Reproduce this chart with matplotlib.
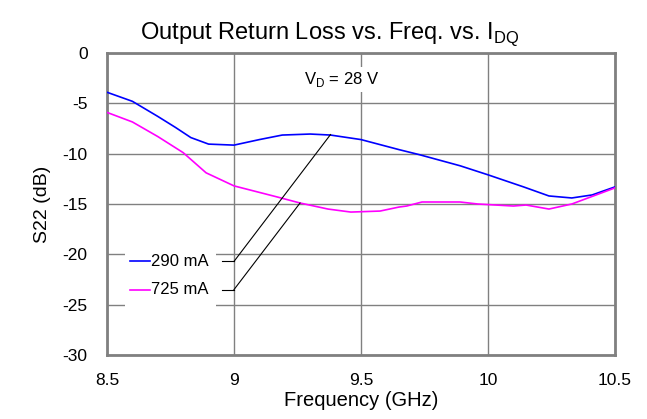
import matplotlib
matplotlib.use("Agg")
import matplotlib.pyplot as plt
from matplotlib.patches import Rectangle

plt.rcParams['font.family'] = ['Liberation Sans', 'DejaVu Sans']

freq_290 = [8.5, 8.6, 8.7, 8.77, 8.83, 8.9, 9.0, 9.1, 9.19, 9.3, 9.38, 9.5, 9.575, 9.65, 9.73, 9.89, 10.0, 10.14, 10.24, 10.33, 10.41, 10.5]
s22_290 = [-3.9, -4.8, -6.3, -7.4, -8.4, -9.05, -9.15, -8.6, -8.15, -8.05, -8.15, -8.6, -9.1, -9.6, -10.1, -11.2, -12.1, -13.3, -14.2, -14.4, -14.1, -13.3]

freq_725 = [8.5, 8.6, 8.7, 8.8, 8.89, 9.0, 9.17, 9.26, 9.37, 9.46, 9.575, 9.65, 9.68, 9.74, 9.89, 9.96, 10.1, 10.15, 10.24, 10.33, 10.5]
s22_725 = [-5.9, -6.85, -8.3, -9.9, -11.9, -13.2, -14.3, -14.9, -15.5, -15.8, -15.7, -15.3, -15.2, -14.8, -14.8, -15.0, -15.2, -15.1, -15.5, -15.0, -13.4]

labels = ['290 mA', '725 mA']
colors = ['#0000FF', '#FF00FF']

fig = plt.figure(figsize=(6.47, 4.19), dpi=100)
ax = fig.add_axes([0.1654, 0.1527, 0.7851, 0.7208])

ax.plot(freq_290, s22_290, color=colors[0], lw=1.2, zorder=3)
ax.plot(freq_725, s22_725, color=colors[1], lw=1.2, zorder=3)

ax.set_xlim(8.5, 10.5)
ax.set_ylim(-30, 0)
ax.set_xticks([8.5, 9, 9.5, 10, 10.5])
ax.set_xticklabels(['8.5', '9', '9.5', '10', '10.5'])
ax.set_yticks([0, -5, -10, -15, -20, -25, -30])
ax.set_yticklabels(['0', '-5', '-10', '-15', '-20', '-25', '-30'])
ax.grid(True, color='#808080', lw=1)
ax.tick_params(length=0, labelsize=12.5)
ax.tick_params(axis='x', pad=13)
ax.tick_params(axis='y', pad=14)
for s in ax.spines.values():
    s.set_color('#808080')
    s.set_linewidth(2)

ax.set_xlabel('Frequency (GHz)', fontsize=14.5, labelpad=2)
ax.set_ylabel('S22 (dB)', fontsize=14, labelpad=8)
fig.text(0.51, 0.919, 'Output Return Loss vs. Freq. vs. I$_{\\mathregular{DQ}}$', fontsize=17,
         ha='center', va='center')

ax.text(9.425, -2.6, 'V$_{\\mathregular{D}}$ = 28 V', fontsize=12, ha='center', va='center',
        bbox=dict(facecolor='white', edgecolor='none', pad=2), zorder=2)

# legend box
ax.add_patch(Rectangle((8.57, -25.3), 0.36, 5.8, facecolor='white', edgecolor='none', zorder=2))
ys = [-20.7, -23.5]
for lab, c, yv in zip(labels, colors, ys):
    ax.plot([8.59, 8.67], [yv, yv], color=c, lw=1.2, zorder=3)
    ax.text(8.675, yv, lab, fontsize=12, va='center', ha='left', zorder=3)
    ax.plot([8.953, 9.0], [yv, yv], color='black', lw=0.8, zorder=3)

ax.plot([9.0, 9.38], [-20.7, -8.1], color='black', lw=0.8, zorder=4)
ax.plot([9.0, 9.26], [-23.5, -14.9], color='black', lw=0.8, zorder=4)

fig.savefig('out.png', dpi=100)
